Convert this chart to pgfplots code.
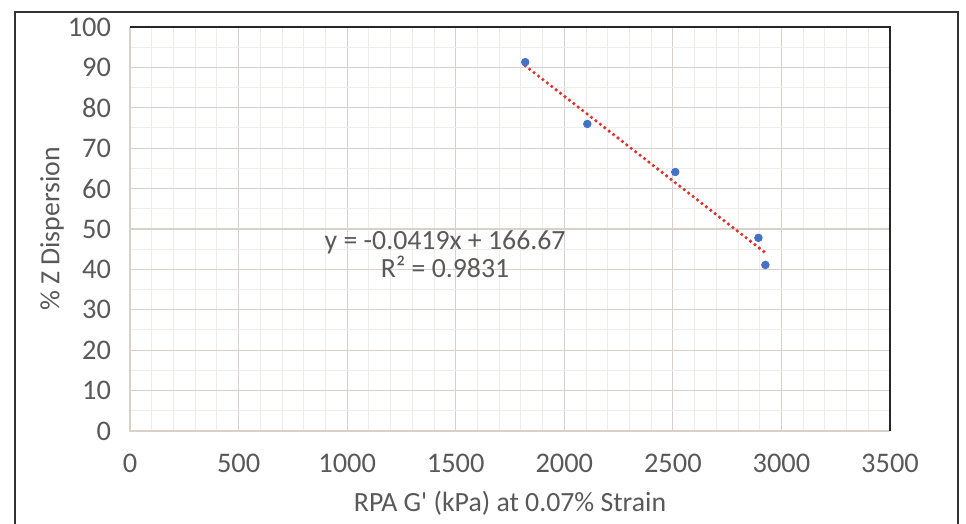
\documentclass[border=0pt]{standalone}
\usepackage{pgfplots}
\pgfplotsset{compat=1.18}
\usepackage{fontspec}
\setmainfont{Carlito}
\definecolor{txt}{HTML}{595959}
\definecolor{majgrid}{HTML}{D9CFCB}
\definecolor{mingrid}{HTML}{F0ECEA}
\definecolor{ptblue}{HTML}{4472C4}
\definecolor{trendred}{HTML}{E0302A}
\begin{document}
\begin{tikzpicture}
\begin{axis}[
  scale only axis, width=380pt, height=202pt,
  xmin=0, xmax=3500, ymin=0, ymax=100,
  xtick={0,500,...,3500}, ytick={0,10,...,100},
  minor x tick num=4, minor y tick num=1,
  grid=both,
  major grid style={majgrid, line width=0.6pt},
  minor grid style={mingrid, line width=0.5pt},
  axis line style={draw=none},
  tick style={draw=none},
  /pgf/number format/assume math mode=true,
  /pgf/number format/set thousands separator={},
  ticklabel style={font=\fontsize{14.2}{15}\selectfont, text=txt},
  xticklabel style={yshift=-8pt},
  yticklabel style={xshift=-6pt},
  xlabel={RPA G\textquotesingle\ (kPa) at 0.07\% Strain},
  ylabel={\% Z Dispersion},
  label style={font=\fontsize{13.9}{15}\selectfont, text=txt},
  xlabel style={at={(rel axis cs:0.5,-0.178)}, anchor=center},
  ylabel style={at={(rel axis cs:-0.1026,0.5)}, anchor=center, rotate=0},
  clip=false,
]
\useasboundingbox (rel axis cs:-0.1711,-0.2302) rectangle (rel axis cs:1.1,1.0668);
\draw[black!80, line width=0.8pt] (rel axis cs:-0.1513,-0.2302) -- (rel axis cs:-0.1513,1.0371) -- (rel axis cs:1.0895,1.0371) -- (rel axis cs:1.0895,-0.2302);
\draw[majgrid, line width=0.8pt] (rel axis cs:0,1) -- (rel axis cs:0,0) -- (rel axis cs:1,0);
\draw[black!85, line width=0.8pt] (rel axis cs:0,1) -- (rel axis cs:1,1) -- (rel axis cs:1,0);
\addplot[trendred, line width=1.8pt, dash pattern=on 0pt off 2.8pt, line cap=round] coordinates {
  (1820,90.4) (2926,44.1)
};
\addplot[only marks, mark=*, mark size=1.9pt, ptblue, mark options={draw=ptblue, fill=ptblue}] coordinates {
  (1820,91.3) (2106,76.0) (2511,64.1) (2894,47.8) (2926,41.1)
};
\node[align=center, text=txt, font=\fontsize{13.9}{14.2}\selectfont] at (axis cs:1451,43.8) {y = -0.0419x + 166.67\\R² = 0.9831};
\end{axis}
\end{tikzpicture}
\end{document}
